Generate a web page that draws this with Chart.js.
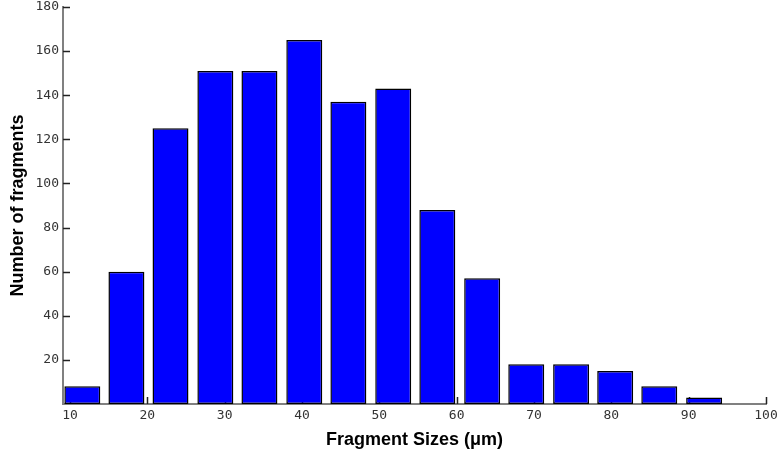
<!DOCTYPE html>
<html>
<head>
<meta charset="utf-8">
<script src="https://cdn.jsdelivr.net/npm/chart.js@4.4.1/dist/chart.umd.min.js"></script>
<style>
  body { margin: 0; background: #fff; }
</style>
</head>
<body>
<canvas id="histChart" width="777" height="457"></canvas>
<script>
// bin centres (um) and fragment counts
var binCenters = [11.6, 17.3, 23.0, 28.8, 34.5, 40.3, 46.0, 51.8, 57.5, 63.3, 69.0, 74.8, 80.5, 86.2, 92.0];
var counts = [8, 60, 125, 151, 151, 165, 137, 143, 88, 57, 18, 18, 15, 8, 3];
var xTicks = [10, 20, 30, 40, 50, 60, 70, 80, 90, 100];
var yTicks = [20, 40, 60, 80, 100, 120, 140, 160, 180];

var points = binCenters.map(function (c, i) { return { x: c, y: counts[i] }; });

// matlab style ticks pointing into the plot, drawn under the bars
var innerTicks = {
    id: 'innerTicks',
    beforeDatasetsDraw: function (chart) {
        var ctx = chart.ctx, a = chart.chartArea;
        var x = chart.scales.x, y = chart.scales.y;
        ctx.save();
        ctx.strokeStyle = '#222';
        ctx.lineWidth = 1.5;
        ctx.beginPath();
        y.ticks.forEach(function (t) {
            var py = Math.round(y.getPixelForValue(t.value)) + 0.5;
            ctx.moveTo(a.left, py);
            ctx.lineTo(a.left + 7, py);
        });
        x.ticks.forEach(function (t) {
            var px = Math.round(x.getPixelForValue(t.value)) + 0.5;
            ctx.moveTo(px, a.bottom);
            ctx.lineTo(px, a.bottom - 7);
        });
        ctx.stroke();
        ctx.restore();
    }
};

var ctx = document.getElementById('histChart').getContext('2d');

var histChart = new Chart(ctx, {
    type: 'bar',
    data: {
        datasets: [
            {
                label: 'Fragments',
                data: points,
                backgroundColor: '#0000FF',
                borderColor: '#000000',
                borderWidth: 1.5,
                borderSkipped: false,
                barPercentage: 0.816,
                categoryPercentage: 1
            }
        ]
    },
    options: {
        responsive: false,
        animation: false,
        layout: {
            padding: { top: 7, right: 11, left: 0, bottom: 0 }
        },
        plugins: {
            legend: { display: false },
            tooltip: { enabled: false }
        },
        scales: {
            x: {
                type: 'linear',
                offset: false,
                min: 9.1,
                max: 100,
                grid: { display: false, drawTicks: false },
                border: { color: '#808080', width: 2 },
                afterBuildTicks: function (scale) {
                    scale.ticks = xTicks.map(function (v) { return { value: v }; });
                },
                afterFit: function (scale) {
                    scale.height = 53;
                    scale.paddingLeft = 0;
                    scale.paddingRight = 0;
                },
                ticks: {
                    maxRotation: 0,
                    autoSkip: false,
                    padding: 4,
                    color: '#333',
                    font: { family: 'DejaVu Sans Mono', size: 13 }
                },
                title: {
                    display: true,
                    text: 'Fragment Sizes (\u03bcm)',
                    color: '#000',
                    font: { family: 'Liberation Sans', size: 18, weight: 'bold' },
                    padding: { top: 0, bottom: 6 }
                }
            },
            y: {
                min: 0,
                max: 180,
                grid: { display: false, drawTicks: false },
                border: { color: '#808080', width: 2 },
                afterBuildTicks: function (scale) {
                    scale.ticks = yTicks.map(function (v) { return { value: v }; });
                },
                afterFit: function (scale) {
                    scale.width = 63;
                    scale.paddingTop = 0;
                    scale.paddingBottom = 0;
                },
                ticks: {
                    padding: 4,
                    color: '#333',
                    font: { family: 'DejaVu Sans Mono', size: 13 }
                },
                title: {
                    display: true,
                    text: 'Number of fragments',
                    color: '#000',
                    font: { family: 'Liberation Sans', size: 18, weight: 'bold' },
                    padding: { top: 7, bottom: 0 }
                }
            }
        }
    },
    plugins: [innerTicks]
});
</script>
</body>
</html>
